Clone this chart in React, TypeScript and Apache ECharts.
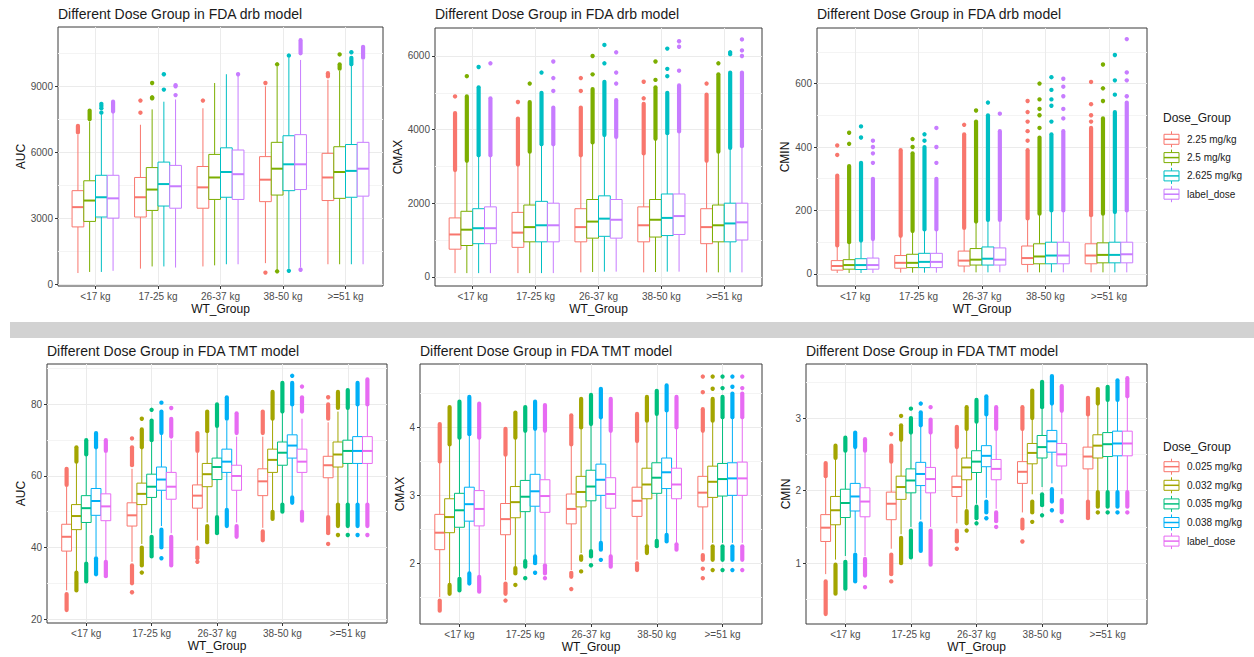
import React, { useEffect, useRef } from "react";
import * as echarts from "echarts";

const FONT = "'Liberation Sans', Arial, Helvetica, sans-serif";

// ---------- categories / groups ----------
const categories = ["<17 kg", "17-25 kg", "26-37 kg", "38-50 kg", ">=51 kg"];
const drbGroups = ["2.25 mg/kg", "2.5 mg/kg", "2.625 mg/kg", "label_dose"];
const tmtGroups = ["0.025 mg/kg", "0.032 mg/kg", "0.035 mg/kg", "0.038 mg/kg", "label_dose"];
const drbColors = ["#F8766D", "#7CAE00", "#00BFC4", "#C77CFF"];
const tmtColors = ["#F8766D", "#A3A500", "#00BF7D", "#00B0F6", "#E76BF3"];

// box stats per [group][category] = [lowWhisker, Q1, median, Q3, highWhisker]
// outliers per [group][category]: number = single point, [a, b] = dense run of points
type Box = number[];
type Out = (number | number[])[];

// ---------- drb AUC ----------
const drbAucTicks = [0, 3000, 6000, 9000];
const drbAucMinor = [1500, 4500, 7500, 10500];
const drbAucBoxes: Box[][] = [
  [[500, 2600, 3500, 4250, 6800], [700, 3050, 3950, 4850, 7250], [800, 3450, 4400, 5350, 8000], [950, 3750, 4750, 5800, 9000], [900, 3800, 4850, 5950, 9300]],
  [[550, 2850, 3800, 4700, 7400], [800, 3350, 4300, 5300, 7950], [850, 3850, 4850, 5900, 9150], [650, 4050, 5250, 6450, 9900], [900, 3900, 5100, 6250, 9700]],
  [[550, 3050, 3950, 4950, 7700], [800, 3550, 4550, 5550, 8300], [900, 3950, 5100, 6200, 9550], [700, 4250, 5450, 6750, 10300], [900, 3950, 5150, 6350, 9950]],
  [[600, 3000, 3900, 4950, 7800], [750, 3450, 4450, 5400, 8400], [900, 3850, 5000, 6100, 9500], [750, 4300, 5450, 6800, 10200], [900, 4000, 5250, 6450, 10200]],
];
const drbAucOutliers: Out[][] = [
  [[[6900, 7200]], [7800, 8350], [8350], [520, 9150], [[9450, 9600]]],
  [[[7500, 7900]], [8450, 8500, 9150], [], [580, 10000], [[9800, 10000], 10450]],
  [[7800, 8000, 8100, 8200], [8850, 9550], [], [600, 10400], [[10000, 10300], 10550]],
  [[[7850, 8300]], [8600, 9000, 9050], [9550], [650, [10500, 11100]], [[10300, 10800]]],
];

// ---------- drb CMAX ----------
const drbCmaxTicks = [0, 2000, 4000, 6000];
const drbCmaxMinor = [1000, 3000, 5000];
const drbCmaxBoxes: Box[][] = [
  [[100, 750, 1150, 1600, 2850], [100, 800, 1200, 1750, 3050], [120, 950, 1350, 1850, 3300], [120, 950, 1400, 1900, 3350], [120, 900, 1350, 1850, 3150]],
  [[100, 850, 1280, 1780, 3150], [100, 950, 1350, 1950, 3400], [130, 1050, 1500, 2100, 3650], [130, 1080, 1550, 2100, 3750], [120, 950, 1400, 1950, 3400]],
  [[100, 900, 1320, 1850, 3300], [100, 950, 1400, 2050, 3600], [140, 1100, 1580, 2200, 3850], [140, 1120, 1600, 2250, 3900], [120, 950, 1450, 2000, 3500]],
  [[100, 900, 1320, 1900, 3300], [100, 950, 1400, 2000, 3600], [140, 1050, 1550, 2100, 3800], [140, 1150, 1650, 2250, 3950], [120, 1000, 1480, 2000, 3550]],
];
const drbCmaxOutliers: Out[][] = [
  [[[2900, 4450], 4900], [[3050, 4300], 4750], [[3300, 4600], 5050, 5400], [[3350, 4700], 4850, 5300], [[3150, 4950], 5250]],
  [[[3150, 4900], 5450], [[3400, 4750], 5250], [[3650, 5100], 5500, 6000], [[3750, 5150], 5350, 5850], [[3400, 5500], 5800]],
  [[[3300, 5150], 5700], [[3600, 5000], 5550], [[3850, 5300], 5800, 6300], [[3900, 5000], 5450, 5650, 6200], [[3500, 5550], 6050, 6100]],
  [[[3300, 4850], 5800], [[3600, 4600], 5050, 5400, 5850], [[3800, 4800], 5250, 5550, 6100], [[3950, 5200], 5600, 6250, 6400], [[3550, 5550], 6000, 6150, 6450]],
];

// ---------- drb CMIN ----------
const drbCminTicks = [0, 200, 400, 600];
const drbCminMinor = [100, 300, 500, 700];
const drbCminBoxes: Box[][] = [
  [[3, 12, 25, 42, 88], [4, 18, 35, 58, 120], [5, 25, 42, 72, 145], [5, 30, 50, 88, 175], [5, 32, 58, 95, 185]],
  [[3, 15, 28, 45, 100], [4, 20, 35, 62, 135], [5, 28, 45, 80, 165], [5, 32, 55, 95, 190], [5, 35, 60, 98, 190]],
  [[3, 14, 28, 48, 105], [4, 20, 38, 65, 140], [5, 28, 48, 85, 170], [5, 32, 58, 100, 200], [5, 35, 60, 100, 195]],
  [[3, 15, 28, 50, 110], [4, 20, 38, 65, 140], [5, 28, 45, 82, 170], [5, 32, 58, 100, 200], [5, 35, 62, 100, 200]],
];
const drbCminOutliers: Out[][] = [
  [[[90, 310], 375, 405], [[120, 390]], [[145, 440], 470], [[175, 390], 420, 450, 480, 510, 545], [[185, 460], 480, 500, 535, 605]],
  [[[100, 340], 410, 445], [[135, 380], 400, 425], [[165, 480], 515], [[190, 430], 460, 500, 520, 550, 600], [[190, 490], 545, 585, 660]],
  [[[105, 350], 430, 465], [[140, 400], 420, 440], [[170, 500], 540], [[200, 440], 480, 530, 550, 580, 620], [[195, 510], 565, 610, 690]],
  [[[110, 300], 350, 380, 400, 420], [[140, 300], 350, 400, 460], [[170, 450], 505], [[200, 450], 490, 520, 560, 590, 615], [[200, 540], 560, 610, 635, 740]],
];

// ---------- TMT AUC ----------
const tmtAucTicks = [20, 40, 60, 80];
const tmtAucMinor = [30, 50, 70, 90];
const tmtAucBoxes: Box[][] = [
  [[28, 39, 43, 46.5, 57], [36, 46, 49, 52.5, 62], [42, 51, 54.5, 57.5, 66.5], [45.5, 54.5, 58.5, 62, 71], [49, 59.5, 63, 65.5, 75]],
  [[33, 45, 48.8, 52, 64], [41, 52, 55, 58, 68], [47, 57, 60.5, 63.5, 72], [50, 61, 64.5, 67.5, 76], [52, 62.5, 66, 69.5, 78]],
  [[36, 47, 51, 54.5, 66], [44, 54, 57, 60.5, 70], [49, 59, 62.5, 65, 74], [52, 63, 66.5, 69.5, 78], [52, 63.5, 67, 70, 79]],
  [[37.5, 49, 53, 56.5, 68], [46, 56, 59, 62.5, 71.5], [51, 61, 64, 67.5, 75.5], [54.5, 65, 68.5, 71.5, 80], [52, 63.5, 67, 71, 80]],
  [[36.5, 47.5, 51.5, 55, 66.5], [44, 53.5, 57, 61, 70], [47, 56, 60, 63, 71], [50, 61, 64, 67.5, 76], [52, 63.5, 67, 71, 80]],
];
const tmtAucOutliers: Out[][] = [
  [[[22.5, 27], [57.5, 62]], [27.5, [30, 35], [63, 68], 70.5], [36, [37, 40], [67, 72]], [[42, 44.5], [72, 78]], [41, [44, 48.5], [76, 80], 82]],
  [[[28, 33], [64, 68]], [33, [35, 40], [68, 73], 76], [41.5, [42, 46], [72.5, 78]], [[48, 50], [76, 83.5]], [43.5, [46, 52], [79, 83.5]]],
  [[[30.5, 35.5], [66, 70]], [[37.5, 43], [70, 75.5], 78.5], [[44, 48.5], [74, 80]], [[50, 52], [78, 86]], [43.5, [46, 52], [79, 84]]],
  [[[32.5, 37], [68, 72]], [37, [40, 45], [72, 78], 80.5], [[46, 50.5], [76, 82]], [[52.5, 54], [80, 86], 88], [43.5, [46, 52], [80, 86]]],
  [[[32, 36], [67, 70]], [[35, 43], [71, 76], 79], [[43, 46], [72, 77.5]], [[47.5, 50], [78, 82], 85], [43.5, [46, 52], [80, 87]]],
];

// ---------- TMT CMAX ----------
const tmtCmaxTicks = [2, 3, 4];
const tmtCmaxMinor = [1.5, 2.5, 3.5, 4.5];
const tmtCmaxBoxes: Box[][] = [
  [[1.5, 2.2, 2.45, 2.72, 3.5], [1.75, 2.42, 2.65, 2.88, 3.6], [1.9, 2.58, 2.8, 3.02, 3.75], [2.05, 2.69, 2.92, 3.12, 3.8], [2.2, 2.83, 3.04, 3.28, 3.95]],
  [[1.7, 2.45, 2.68, 2.95, 3.75], [1.95, 2.67, 2.9, 3.13, 3.85], [2.15, 2.83, 3.05, 3.28, 4.0], [2.25, 2.95, 3.16, 3.4, 4.1], [2.3, 2.97, 3.2, 3.43, 4.1]],
  [[1.8, 2.53, 2.78, 3.03, 3.85], [2.05, 2.76, 2.98, 3.22, 3.95], [2.2, 2.92, 3.13, 3.37, 4.05], [2.35, 3.03, 3.26, 3.48, 4.2], [2.3, 2.99, 3.24, 3.47, 4.15]],
  [[1.85, 2.62, 2.87, 3.12, 3.9], [2.1, 2.84, 3.06, 3.31, 3.98], [2.3, 3.0, 3.23, 3.46, 4.15], [2.42, 3.1, 3.34, 3.55, 4.25], [2.3, 3.0, 3.25, 3.48, 4.15]],
  [[1.82, 2.55, 2.8, 3.07, 3.85], [2.0, 2.75, 2.99, 3.23, 3.95], [2.1, 2.81, 3.02, 3.26, 3.95], [2.3, 2.95, 3.16, 3.4, 4.0], [2.3, 3.0, 3.25, 3.49, 4.15]],
];
const tmtCmaxOutliers: Out[][] = [
  [[[1.3, 1.45], [3.5, 4.05]], [1.45, [1.55, 1.7], [3.6, 3.98]], [1.62, [1.8, 1.86], [3.75, 4.18]], [[1.9, 2.0], [3.8, 4.2]], [1.78, 1.92, [2.05, 2.12], [3.95, 4.27], 4.52, 4.75]],
  [[[1.55, 1.68], [3.75, 4.3]], [1.68, [1.85, 1.93], [3.85, 4.22]], [1.88, [2.05, 2.1], [4.0, 4.42]], [[2.15, 2.25], [4.1, 4.45]], [1.9, [2.05, 2.25], [4.1, 4.42], 4.57, 4.75]],
  [[[1.6, 1.77], [3.85, 4.38]], [1.78, [1.95, 2.03], [3.95, 4.3]], [1.97, [2.1, 2.18], [4.05, 4.48]], [[2.25, 2.33], [4.2, 4.54]], [1.9, [2.05, 2.25], [4.15, 4.45], 4.58, 4.75]],
  [[[1.7, 1.85], [3.9, 4.45]], [1.86, [2.0, 2.1], [3.98, 4.38]], [2.05, [2.2, 2.3], [4.15, 4.57]], [[2.32, 2.42], [4.25, 4.62]], [1.9, [2.05, 2.25], [4.15, 4.5], 4.6, 4.75]],
  [[[1.58, 1.8], [3.85, 4.35]], [1.78, [1.85, 1.97], [3.95, 4.33]], [[1.95, 2.1], [3.95, 4.42]], [[2.2, 2.28], [4.0, 4.45]], [1.9, [2.05, 2.25], [4.15, 4.5], 4.58, 4.75]],
];

// ---------- TMT CMIN ----------
const tmtCminTicks = [1, 2, 3];
const tmtCminMinor = [0.5, 1.5, 2.5, 3.5];
const tmtCminBoxes: Box[][] = [
  [[0.85, 1.3, 1.49, 1.67, 2.2], [1.2, 1.6, 1.82, 1.98, 2.4], [1.55, 1.92, 2.05, 2.2, 2.6], [1.7, 2.1, 2.26, 2.4, 2.85], [1.85, 2.3, 2.47, 2.6, 3.05]],
  [[1.05, 1.53, 1.73, 1.92, 2.45], [1.4, 1.88, 2.05, 2.2, 2.7], [1.75, 2.15, 2.32, 2.45, 2.85], [1.95, 2.37, 2.52, 2.65, 3.0], [2.0, 2.45, 2.62, 2.77, 3.2]],
  [[1.1, 1.63, 1.83, 2.02, 2.55], [1.5, 1.97, 2.14, 2.3, 2.8], [1.82, 2.25, 2.4, 2.55, 2.95], [2.05, 2.45, 2.6, 2.76, 3.15], [2.0, 2.47, 2.64, 2.8, 3.25]],
  [[1.15, 1.72, 1.92, 2.1, 2.6], [1.6, 2.07, 2.23, 2.39, 2.9], [1.9, 2.33, 2.48, 2.62, 3.05], [2.1, 2.53, 2.68, 2.83, 3.2], [2.0, 2.48, 2.65, 2.82, 3.25]],
  [[1.1, 1.64, 1.85, 2.04, 2.55], [1.5, 1.97, 2.16, 2.32, 2.8], [1.75, 2.15, 2.3, 2.43, 2.85], [1.95, 2.34, 2.5, 2.65, 3.1], [2.0, 2.48, 2.65, 2.82, 3.3]],
];
const tmtCminOutliers: Out[][] = [
  [[[0.3, 0.75], [2.2, 2.38]], [0.75, [0.85, 1.12], [2.4, 2.62], 2.78], [1.2, [1.3, 1.45], [2.6, 2.88]], [1.3, [1.48, 1.6], [2.85, 3.15]], [[1.62, 1.85], [3.05, 3.28]]],
  [[[0.58, 0.98], [2.45, 2.62]], [[1.0, 1.35], [2.7, 2.9], 3.03], [1.45, [1.55, 1.72], [2.85, 3.15]], [1.57, [1.7, 1.85], [3.0, 3.38]], [1.7, [1.78, 1.98], [3.2, 3.4]]],
  [[[0.65, 1.02], [2.55, 2.73]], [[1.08, 1.45], [2.8, 3.0], 3.13], [1.55, [1.62, 1.78], [2.95, 3.25]], [1.66, [1.8, 1.95], [3.15, 3.5]], [1.7, [1.78, 1.98], [3.25, 3.43]]],
  [[[0.75, 1.12], [2.6, 2.8]], [[1.17, 1.55], [2.9, 3.08], 3.2], [1.62, [1.7, 1.85], [3.05, 3.3]], [1.73, [1.85, 2.02], [3.2, 3.58]], [1.7, [1.78, 1.98], [3.25, 3.52]]],
  [[0.67, [0.83, 1.06], [2.55, 2.71]], [[0.98, 1.45], [2.8, 2.98], 3.15], [1.5, [1.58, 1.7], [2.85, 3.15]], [1.58, [1.7, 1.87], [3.1, 3.44]], [1.7, [1.78, 1.98], [3.3, 3.55]]],
];

const drbTitle = "Different Dose Group in FDA drb model";
const tmtTitle = "Different Dose Group in FDA TMT model";

// ---------- panel layout (pixels) ----------
const panels = [
  { title: drbTitle, yName: "AUC", boxes: drbAucBoxes, outs: drbAucOutliers, groups: drbGroups, colors: drbColors, ticks: drbAucTicks, minor: drbAucMinor, min: -90, max: 11700, left: 58, top: 27, width: 325, height: 259, nameGap: 28 },
  { title: drbTitle, yName: "CMAX", boxes: drbCmaxBoxes, outs: drbCmaxOutliers, groups: drbGroups, colors: drbColors, ticks: drbCmaxTicks, minor: drbCmaxMinor, min: -250, max: 6760, left: 435, top: 28, width: 327, height: 258, nameGap: 28 },
  { title: drbTitle, yName: "CMIN", boxes: drbCminBoxes, outs: drbCminOutliers, groups: drbGroups, colors: drbColors, ticks: drbCminTicks, minor: drbCminMinor, min: -38, max: 775, left: 817, top: 28, width: 330, height: 258, nameGap: 25 },
  { title: tmtTitle, yName: "AUC", boxes: tmtAucBoxes, outs: tmtAucOutliers, groups: tmtGroups, colors: tmtColors, ticks: tmtAucTicks, minor: tmtAucMinor, min: 18.9, max: 91.3, left: 47, top: 364, width: 340, height: 259, nameGap: 17 },
  { title: tmtTitle, yName: "CMAX", boxes: tmtCmaxBoxes, outs: tmtCmaxOutliers, groups: tmtGroups, colors: tmtColors, ticks: tmtCmaxTicks, minor: tmtCmaxMinor, min: 1.105, max: 4.935, left: 420, top: 364, width: 342, height: 260, nameGap: 14 },
  { title: tmtTitle, yName: "CMIN", boxes: tmtCminBoxes, outs: tmtCminOutliers, groups: tmtGroups, colors: tmtColors, ticks: tmtCminTicks, minor: tmtCminMinor, min: 0.163, max: 3.745, left: 806, top: 364, width: 341, height: 260, nameGap: 14 },
];

const legends = [
  { groups: drbGroups, colors: drbColors, x: 1163, titleY: 118, firstY: 139.3, step: 18.3 },
  { groups: tmtGroups, colors: tmtColors, x: 1163, titleY: 446.7, firstY: 466.7, step: 18.6 },
];

const catIndex = categories.map((_, i) => i);
const DODGE = 0.75;

function buildOption() {
  const grid: any[] = [];
  const xAxis: any[] = [];
  const yAxis: any[] = [];
  const series: any[] = [];
  const title: any[] = [];

  panels.forEach((p, i) => {
    grid.push({
      left: p.left, top: p.top, width: p.width, height: p.height,
      show: true, borderColor: "#3b3b3b", borderWidth: 1, backgroundColor: "transparent",
      containLabel: false, outerBoundsMode: "none",
    });
    title.push({
      text: p.title, left: p.left, top: p.top < 100 ? 7 : 344, padding: 0,
      textStyle: { fontSize: 14, fontWeight: "normal", color: "#1a1a1a", fontFamily: FONT },
    });
    xAxis.push({
      type: "value", gridIndex: i, min: -0.6, max: 4.6,
      axisLine: { show: false, onZero: false },
      axisTick: { show: true, length: 3, customValues: catIndex, lineStyle: { color: "#333" } },
      axisLabel: {
        customValues: catIndex, formatter: (v: number) => categories[Math.round(v)] ?? "",
        color: "#4d4d4d", fontSize: 10, margin: 5, fontFamily: FONT,
      },
      splitLine: { show: true, lineStyle: { color: "#ebebeb", width: 1 } },
      name: "WT_Group", nameLocation: "middle", nameGap: 17,
      nameTextStyle: { fontSize: 12, color: "#111", fontFamily: FONT },
    });
    yAxis.push({
      type: "value", gridIndex: i, min: p.min, max: p.max, position: "left",
      axisLine: { show: false, onZero: false },
      axisTick: { show: true, length: 3, customValues: p.ticks, lineStyle: { color: "#333" } },
      axisLabel: {
        customValues: p.ticks, formatter: (v: number) => String(v),
        color: "#4d4d4d", fontSize: 10, margin: 5, fontFamily: FONT,
      },
      splitLine: { show: true, lineStyle: { color: "#ebebeb", width: 1 } },
      name: p.yName, nameLocation: "middle", nameGap: p.nameGap,
      nameTextStyle: { fontSize: 12, color: "#111", fontFamily: FONT },
    });
    yAxis.push({
      type: "value", gridIndex: i, min: p.min, max: p.max, position: "left",
      axisLine: { show: false, onZero: false },
      axisTick: { show: false, customValues: p.minor },
      axisLabel: { show: false, customValues: p.minor },
      splitLine: { show: true, lineStyle: { color: "#f4f4f4", width: 1 } },
    });

    const n = p.groups.length;
    p.groups.forEach((gName, g) => {
      const color = p.colors[g];
      const outs = p.outs[g];
      series.push({
        type: "custom",
        name: gName,
        xAxisIndex: i,
        yAxisIndex: i * 2,
        silent: true,
        encode: { x: 0, y: [1, 2, 3, 4, 5] },
        data: p.boxes[g].map((b, c) => [c, ...b]),
        renderItem: (params: any, api: any) => {
          const c = api.value(0) as number;
          const lo = api.value(1), q1 = api.value(2), med = api.value(3), q3 = api.value(4), hi = api.value(5);
          const w = DODGE / n;
          const xc = c + (g - (n - 1) / 2) * w;
          const P = (x: number, y: number) => api.coord([x, y]);
          const children: any[] = [];
          (outs[c] || []).forEach((o) => {
            if (Array.isArray(o)) {
              const a = P(xc, o[0]);
              const b = P(xc, o[1]);
              children.push({
                type: "line",
                shape: { x1: a[0], y1: a[1], x2: b[0], y2: b[1] },
                style: { stroke: color, lineWidth: 4.2, lineCap: "round" },
              });
            } else {
              const a = P(xc, o);
              children.push({ type: "circle", shape: { cx: a[0], cy: a[1], r: 2.2 }, style: { fill: color } });
            }
          });
          const pHi = P(xc, hi), pQ3 = P(xc, q3), pQ1 = P(xc, q1), pLo = P(xc, lo);
          children.push({ type: "line", shape: { x1: pHi[0], y1: pHi[1], x2: pQ3[0], y2: pQ3[1] }, style: { stroke: color, lineWidth: 1 } });
          children.push({ type: "line", shape: { x1: pLo[0], y1: pLo[1], x2: pQ1[0], y2: pQ1[1] }, style: { stroke: color, lineWidth: 1 } });
          const tl = P(xc - w / 2, q3);
          const br = P(xc + w / 2, q1);
          children.push({
            type: "rect",
            shape: { x: tl[0], y: tl[1], width: br[0] - tl[0], height: br[1] - tl[1] },
            style: { fill: "#fff", stroke: color, lineWidth: 1 },
          });
          const ml = P(xc - w / 2, med);
          const mr = P(xc + w / 2, med);
          children.push({ type: "line", shape: { x1: ml[0], y1: ml[1], x2: mr[0], y2: mr[1] }, style: { stroke: color, lineWidth: 2 } });
          return { type: "group", children };
        },
      });
    });
  });

  const graphic: any[] = [
    { type: "rect", shape: { x: 10, y: 322, width: 1244, height: 16 }, style: { fill: "#d2d2d2" }, silent: true },
  ];
  legends.forEach((lg) => {
    graphic.push({
      type: "text", x: lg.x, y: lg.titleY,
      style: { text: "Dose_Group", fontSize: 12, fill: "#1a1a1a", fontFamily: FONT, verticalAlign: "middle" },
    });
    lg.groups.forEach((gName, k) => {
      const cy = lg.firstY + k * lg.step;
      const color = lg.colors[k];
      const kx = lg.x + 1;
      graphic.push({
        type: "group",
        children: [
          { type: "line", shape: { x1: kx + 7.5, y1: cy - 8, x2: kx + 7.5, y2: cy - 5 }, style: { stroke: color, lineWidth: 1 } },
          { type: "line", shape: { x1: kx + 7.5, y1: cy + 5, x2: kx + 7.5, y2: cy + 8 }, style: { stroke: color, lineWidth: 1 } },
          { type: "rect", shape: { x: kx, y: cy - 5, width: 15, height: 10 }, style: { fill: "#fff", stroke: color, lineWidth: 1 } },
          { type: "line", shape: { x1: kx, y1: cy, x2: kx + 15, y2: cy }, style: { stroke: color, lineWidth: 1.5 } },
          {
            type: "text", x: kx + 23, y: cy,
            style: { text: gName, fontSize: 10, fill: "#1a1a1a", fontFamily: FONT, verticalAlign: "middle" },
          },
        ],
      });
    });
  });

  return {
    animation: false,
    backgroundColor: "#ffffff",
    textStyle: { fontFamily: FONT },
    title,
    grid,
    xAxis,
    yAxis,
    series,
    graphic,
  };
}

export default function App() {
  const ref = useRef<HTMLDivElement>(null);
  useEffect(() => {
    if (!ref.current) return;
    const chart = echarts.init(ref.current, undefined, { renderer: "svg" });
    chart.setOption(buildOption() as any);
    return () => chart.dispose();
  }, []);
  return (
    <div
      ref={ref}
      style={{ position: "fixed", left: 0, top: 0, width: 1254, height: 657, background: "#fff" }}
    />
  );
}
